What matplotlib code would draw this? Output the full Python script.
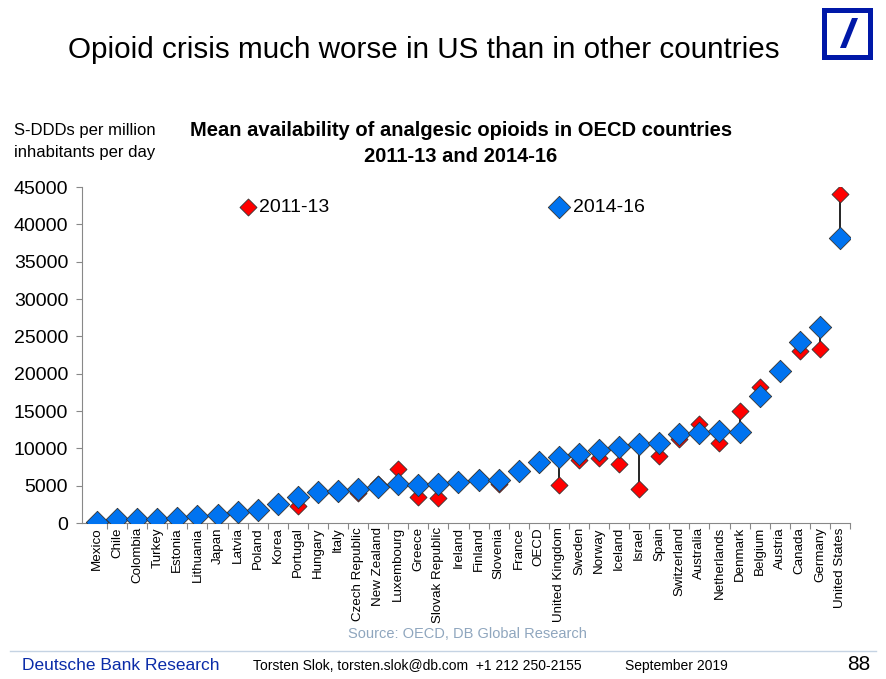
import matplotlib
matplotlib.use("Agg")
import matplotlib.pyplot as plt
from matplotlib.patches import Rectangle, Polygon
from matplotlib.lines import Line2D

plt.rcParams['font.family'] = ['Liberation Sans', 'DejaVu Sans']

countries = ["Mexico", "Chile", "Colombia", "Turkey", "Estonia", "Lithuania", "Japan", "Latvia",
             "Poland", "Korea", "Portugal", "Hungary", "Italy", "Czech Republic", "New Zealand",
             "Luxembourg", "Greece", "Slovak Republic", "Ireland", "Finland", "Slovenia", "France",
             "OECD", "United Kingdom", "Sweden", "Norway", "Iceland", "Israel", "Spain",
             "Switzerland", "Australia", "Netherlands", "Denmark", "Belgium", "Austria", "Canada",
             "Germany", "United States"]
v2011_13 = [100, 450, 500, 500, 650, 850, 1050, 1300, 1750, 2400, 2300, 4100, 4000, 4000, 5200,
            7200, 3500, 3300, 5500, 6000, 5200, 7000, 7900, 5100, 8500, 8700, 7900, 4600, 9000,
            11200, 13300, 10700, 15000, 18200, 20500, 23000, 23300, 44000]
v2014_16 = [100, 500, 550, 550, 700, 900, 1100, 1500, 1800, 2500, 3500, 4200, 4300, 4600, 4800,
            5200, 5100, 5200, 5500, 5700, 5700, 7000, 8200, 8800, 9200, 9800, 10200, 10600, 10700,
            11900, 12000, 12300, 12200, 17000, 20300, 24200, 26300, 38200]
yticks = [0, 5000, 10000, 15000, 20000, 25000, 30000, 35000, 40000, 45000]

W, H = 886, 679
fig = plt.figure(figsize=(W / 100, H / 100), dpi=100)
ax = fig.add_axes([82 / W, 1 - 523 / H, (850 - 82) / W, (523 - 187) / H])

x = list(range(len(countries)))
ax.vlines(x, [min(a, b) for a, b in zip(v2011_13, v2014_16)],
          [max(a, b) for a, b in zip(v2011_13, v2014_16)], color='black', lw=1.2, zorder=1)
red = '#FF0000'
blue = '#0073F0'
ax.scatter(x, v2011_13, marker='D', s=75, color=red, edgecolor='#333333', linewidth=0.6, zorder=2)
ax.scatter(x, v2014_16, marker='D', s=130, color=blue, edgecolor='#333333', linewidth=0.6, zorder=3)

ax.set_xlim(-0.75, 37.5)
ax.set_ylim(0, 45000)
ax.set_yticks(yticks)
ax.set_yticklabels([str(t) for t in yticks], fontsize=14)
ax.set_xticks([i - 0.5 for i in range(1, len(countries))] + [37.5], minor=False)
ax.set_xticklabels([])
ax.set_xticks(x, minor=True)
ax.set_xticklabels(countries, minor=True, rotation=90, fontsize=9.6)
ax.tick_params(axis='x', which='minor', length=0, pad=3)
ax.tick_params(axis='x', which='major', length=4, direction='out', color='#888888')
ax.tick_params(axis='y', length=4, direction='out', color='#888888', pad=6)
for s in ['top', 'right']:
    ax.spines[s].set_visible(False)
ax.spines['left'].set_color('#888888')
ax.spines['bottom'].set_color('#888888')

# legend as in reference
ax.scatter([7.5], [42300], marker='D', s=75, color=red, edgecolor='#333333', linewidth=0.6, clip_on=False)
ax.text(8.05, 42300, "2011-13", fontsize=14, va='center', ha='left')
ax.scatter([23.0], [42300], marker='D', s=130, color=blue, edgecolor='#333333', linewidth=0.6, clip_on=False)
ax.text(23.7, 42300, "2014-16", fontsize=14, va='center', ha='left')

# texts
fig.text(68 / W, 1 - 50 / H, "Opioid crisis much worse in US than in other countries", fontsize=21.3,
         va='center', ha='left')
fig.text(461 / W, 1 - 131 / H, "Mean availability of analgesic opioids in OECD countries", fontsize=14.5,
         fontweight='bold', ha='center', va='center')
fig.text(461 / W, 1 - 157 / H, "2011-13 and 2014-16", fontsize=14.5,
         fontweight='bold', ha='center', va='center')
fig.text(14 / W, 1 - 130 / H, "S-DDDs per million", fontsize=12, ha='left', va='center')
fig.text(14 / W, 1 - 152 / H, "inhabitants per day", fontsize=12, ha='left', va='center')
fig.text(467 / W, 1 - 634 / H, "Source: OECD, DB Global Research", fontsize=10.5, color='#8FA6BE',
         ha='center', va='center')

fig.add_artist(Line2D([10 / W, 876 / W], [1 - 651 / H, 1 - 651 / H], color='#C5D3E3', lw=1))
fig.text(22 / W, 1 - 665 / H, "Deutsche Bank Research", fontsize=12.5, color='#0A2BA8',
         ha='left', va='center')
fig.text(253 / W, 1 - 666 / H, "Torsten Slok, torsten.slok@db.com  +1 212 250-2155", fontsize=10,
         ha='left', va='center')
fig.text(625 / W, 1 - 666 / H, "September 2019", fontsize=10, ha='left', va='center')
fig.text(870 / W, 1 - 665 / H, "88", fontsize=15, ha='right', va='center')

# logo
logo_blue = '#0018A8'
fig.add_artist(Rectangle((822 / W, 1 - 60 / H), 51 / W, 52 / H, facecolor=logo_blue,
                         edgecolor='none', transform=fig.transFigure))
fig.add_artist(Rectangle((827 / W, 1 - 55 / H), 41 / W, 42 / H, facecolor='white',
                         edgecolor='none', transform=fig.transFigure))
fig.add_artist(Polygon([(852 / W, 1 - 18 / H), (858 / W, 1 - 18 / H), (846 / W, 1 - 48 / H),
                        (840 / W, 1 - 48 / H)], closed=True, facecolor=logo_blue,
                       edgecolor='none', transform=fig.transFigure))

fig.savefig("out.png", dpi=100)
